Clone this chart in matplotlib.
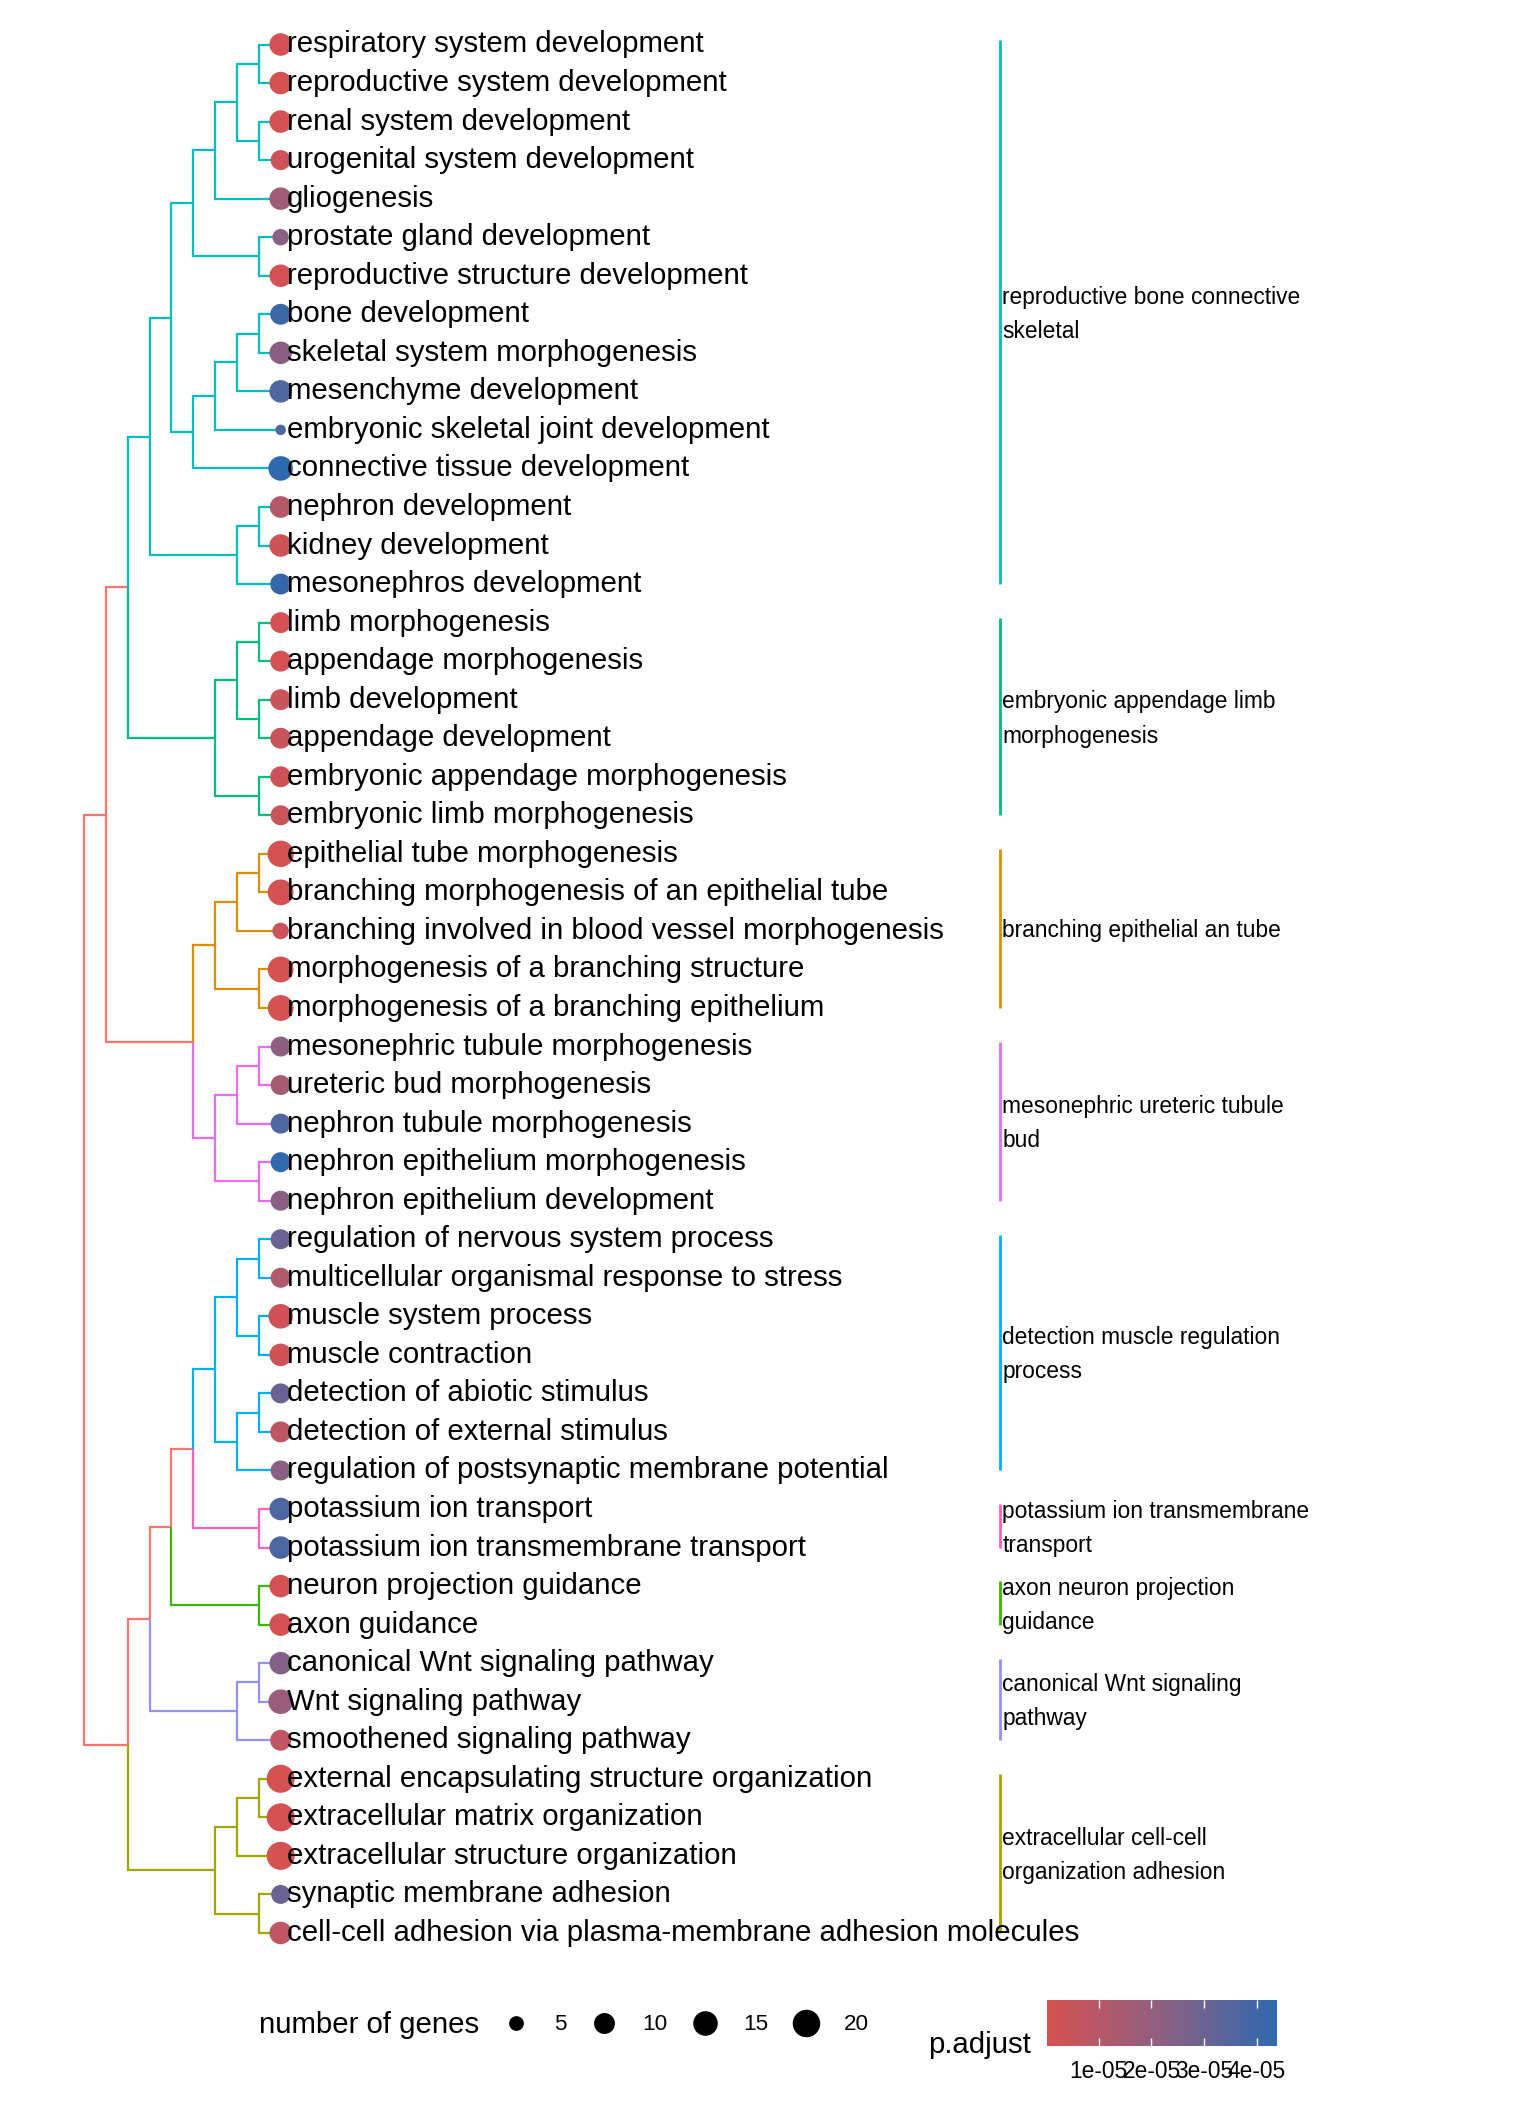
import numpy as np
import matplotlib
matplotlib.use("Agg")
import matplotlib.pyplot as plt
from matplotlib.colors import LinearSegmentedColormap, Normalize
from matplotlib.cm import ScalarMappable
from matplotlib.lines import Line2D

plt.rcParams['font.family'] = ['Liberation Sans', 'DejaVu Sans']

# GO terms, top to bottom
terms = [
    "respiratory system development", "reproductive system development",
    "renal system development", "urogenital system development", "gliogenesis",
    "prostate gland development", "reproductive structure development",
    "bone development", "skeletal system morphogenesis", "mesenchyme development",
    "embryonic skeletal joint development", "connective tissue development",
    "nephron development", "kidney development", "mesonephros development",
    "limb morphogenesis", "appendage morphogenesis", "limb development",
    "appendage development", "embryonic appendage morphogenesis",
    "embryonic limb morphogenesis", "epithelial tube morphogenesis",
    "branching morphogenesis of an epithelial tube",
    "branching involved in blood vessel morphogenesis",
    "morphogenesis of a branching structure", "morphogenesis of a branching epithelium",
    "mesonephric tubule morphogenesis", "ureteric bud morphogenesis",
    "nephron tubule morphogenesis", "nephron epithelium morphogenesis",
    "nephron epithelium development", "regulation of nervous system process",
    "multicellular organismal response to stress", "muscle system process",
    "muscle contraction", "detection of abiotic stimulus",
    "detection of external stimulus", "regulation of postsynaptic membrane potential",
    "potassium ion transport", "potassium ion transmembrane transport",
    "neuron projection guidance", "axon guidance", "canonical Wnt signaling pathway",
    "Wnt signaling pathway", "smoothened signaling pathway",
    "external encapsulating structure organization", "extracellular matrix organization",
    "extracellular structure organization", "synaptic membrane adhesion",
    "cell-cell adhesion via plasma-membrane adhesion molecules",
]

gene_count = [12, 12, 12, 9, 12, 6, 12, 10, 12, 12,
              4, 15, 11, 12, 10, 10, 10, 10, 10, 10,
              9, 18, 17, 6, 17, 17, 9, 9, 9, 9,
              9, 9, 9, 15, 12, 9, 10, 9, 12, 12,
              12, 12, 12, 15, 10, 21, 21, 21, 8, 12]

# p.adjust in units of 1e-05
padj_e5 = [0.10, 0.05, 0.10, 0.30, 1.60, 2.30, 0.10, 4.00, 2.30, 3.60,
           3.60, 4.38, 1.00, 0.30, 4.20, 0.10, 0.10, 0.40, 0.40, 0.30,
           0.40, 0.05, 0.10, 0.40, 0.05, 0.05, 2.20, 1.50, 3.60, 4.30,
           2.30, 3.00, 1.20, 0.20, 0.20, 3.00, 0.80, 2.30, 3.70, 3.70,
           0.10, 0.10, 2.40, 1.80, 0.70, 0.02, 0.02, 0.02, 3.00, 0.70]
padj = np.array(padj_e5) * 1e-5

cluster_labels = [
    "reproductive bone connective\nskeletal",
    "embryonic appendage limb\nmorphogenesis",
    "branching epithelial an tube",
    "mesonephric ureteric tubule\nbud",
    "detection muscle regulation\nprocess",
    "potassium ion transmembrane\ntransport",
    "axon neuron projection\nguidance",
    "canonical Wnt signaling\npathway",
    "extracellular cell-cell\norganization adhesion",
]
cluster_colors = ["#00BFC4", "#00BF7D", "#D89000", "#E76BF3", "#00B0F6",
                  "#FF62BC", "#39B600", "#9590FF", "#A3A500"]
cluster_sizes = [15, 6, 5, 5, 7, 2, 2, 3, 5]
root_color = "#F8766D"

# hierarchical clustering of terms (leaf indices)
repro = ((((0, 1), (2, 3)), 4), (5, 6))
skel = ((((7, 8), 9), 10), 11)
kidney = ((12, 13), 14)
cyan = ((repro, skel), kidney)
green = (((15, 16), (17, 18)), (19, 20))
orange = (((21, 22), 23), (24, 25))
magenta = (((26, 27), 28), (29, 30))
blue = (((31, 32), (33, 34)), ((35, 36), 37))
pink = (38, 39)
green2 = (40, 41)
purple = ((42, 43), 44)
olive = (((45, 46), 47), (48, 49))
upper = ((cyan, green), (orange, magenta))
lower = ((((blue, pink), green2), purple), olive)
tree = (upper, lower)

size_breaks = [5, 10, 15, 20]
cbar_ticks = [1e-5, 2e-5, 3e-5, 4e-5]

cluster_of = np.repeat(np.arange(len(cluster_sizes)), cluster_sizes)

# ---------------- figure ----------------
W, H = 1536, 2112
fig = plt.figure(figsize=(W / 100, H / 100), dpi=100)
ax = fig.add_axes([0, 0, 1, 1])
ax.axis('off')
step_x, step_y = 21.85, 38.54
x0_px, y0_px = 84.0, 44.5
ax.set_xlim(-x0_px / step_x, (W - x0_px) / step_x)
ax.set_ylim((H - y0_px) / step_y, -y0_px / step_y)


def height(node):
    if isinstance(node, int):
        return 0
    return 1 + max(height(c) for c in node)


def leaves(node):
    if isinstance(node, int):
        return [node]
    out = []
    for c in node:
        out += leaves(c)
    return out


depth = height(tree)


def node_pos(node):
    if isinstance(node, int):
        return depth, node
    ys = [node_pos(c)[1] for c in node]
    return depth - height(node), float(np.mean(ys))


def node_color(node):
    cl = set(cluster_of[leaves(node)])
    if len(cl) == 1:
        return cluster_colors[cl.pop()]
    return root_color


def draw(node):
    if isinstance(node, int):
        return
    px, py = node_pos(node)
    for c in node:
        cx, cy = node_pos(c)
        col = node_color(c)
        ax.plot([px, px, cx], [py, cy, cy], color=col, lw=1.6,
                solid_joinstyle='miter', solid_capstyle='butt', zorder=1)
        draw(c)


draw(tree)

# dots
nmin, nmax = min(gene_count), max(gene_count)


def diam_pt(n):
    size = 1 + 5 * np.sqrt((np.asarray(n, float) - nmin) / (nmax - nmin))
    return (3.5 * size + 7.0) / (100 / 72)


cmap = LinearSegmentedColormap.from_list("padj", ["#D65152", "#8D6082", "#2E69AF"])
norm = Normalize(vmin=padj.min(), vmax=padj.max())
rows = np.arange(len(terms))
ax.scatter(np.full(len(terms), depth), rows, s=diam_pt(gene_count) ** 2,
           c=padj, cmap=cmap, norm=norm, linewidths=0, zorder=3)

for r, t in zip(rows, terms):
    ax.text(depth + 0.28, r, t, fontsize=21.2, ha='left', va='center', zorder=4)

# cluster bars and labels
bar_x = (1000 - x0_px) / step_x
start = 0
for lab, col, n in zip(cluster_labels, cluster_colors, cluster_sizes):
    first, last = start, start + n - 1
    ax.plot([bar_x, bar_x], [first - 0.12, last], color=col, lw=2.0,
            solid_capstyle='butt')
    ax.text(bar_x + 0.1, (first + last) / 2, lab, fontsize=16.4, ha='left',
            va='center', linespacing=1.62)
    start += n

# size legend
fig.text(259 / W, 1 - 2025 / H, "number of genes", fontsize=21.2, va='center', ha='left')
handles = [Line2D([], [], marker='o', linestyle='', color='black',
                  markeredgewidth=0, markersize=float(diam_pt(b))) for b in size_breaks]
fig.legend(handles, [str(b) for b in size_breaks], ncol=4, frameon=False,
           loc='center left', bbox_to_anchor=(505 / W, 1 - 2025 / H),
           bbox_transform=fig.transFigure, fontsize=16.2, handlelength=1.0,
           handletextpad=1.2, columnspacing=1.15, borderpad=0, borderaxespad=0)

# colour bar
fig.text(928 / W, 1 - 2045 / H, "p.adjust", fontsize=21.2, va='center', ha='left')
cax = fig.add_axes([1047 / W, 1 - 2046 / H, 230 / W, 46 / H])
cb = fig.colorbar(ScalarMappable(norm=norm, cmap=cmap), cax=cax, orientation='horizontal')
cb.set_ticks(cbar_ticks)
cb.set_ticklabels(["1e-05", "2e-05", "3e-05", "4e-05"])
cb.outline.set_visible(False)
cax.tick_params(which='both', direction='in', color='white', labelcolor='black',
                length=6, width=1, top=True, bottom=True, labelsize=16.4, pad=10)

fig.savefig("out.png", dpi=100)
